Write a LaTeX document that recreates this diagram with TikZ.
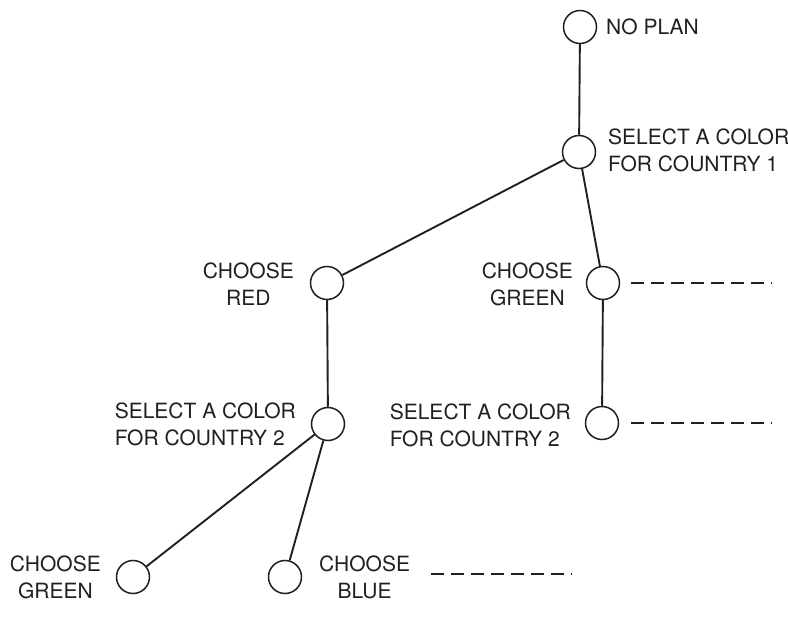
\documentclass[tikz,border=0pt]{standalone}
\usepackage{fontspec}
\setmainfont{TeX Gyre Heros}
\definecolor{ink}{RGB}{35,31,32}
\begin{document}
\begin{tikzpicture}[x=1pt,y=-1pt,
  st/.style={circle, draw=ink, line width=1.5pt, minimum size=33pt, inner sep=0pt},
  lbl/.style={font=\fontsize{21}{27}\selectfont, text=ink, inner sep=0pt},
  edge/.style={draw=ink, line width=1.9pt},
  dashline/.style={draw=ink, line width=1.3pt, dash pattern=on 13pt off 7pt}]
\useasboundingbox (0,0) rectangle (788,620);
% states
\node[st] (A) at (580,27) {};
\node[st] (B) at (579,152) {};
\node[st] (C) at (327,283) {};
\node[st] (D) at (603,283) {};
\node[st] (E) at (328,424) {};
\node[st] (F) at (602,423) {};
\node[st] (G) at (133,577) {};
\node[st] (H) at (285,577) {};
% labels
\node[lbl, anchor=west] (lA) at (606,27) {NO PLAN};
\node[lbl, anchor=west, align=left] (lB) at (608,150) {SELECT A COLOR\\FOR COUNTRY 1};
\node[lbl, anchor=east, align=center] (lC) at (294,284) {CHOOSE\\RED};
\node[lbl, anchor=east, align=center] (lD) at (573,284) {CHOOSE\\GREEN};
\node[lbl, anchor=east, align=left] (lE) at (296,424) {SELECT A COLOR\\FOR COUNTRY 2};
\node[lbl, anchor=east, align=left] (lF) at (571,425) {SELECT A COLOR\\FOR COUNTRY 2};
\node[lbl, anchor=east, align=center] (lG) at (101,577) {CHOOSE\\GREEN};
\node[lbl, anchor=west, align=center] (lH) at (319,577) {CHOOSE\\BLUE};
% edges
\draw[edge] (A) -- (B);
\draw[edge] (B) -- (C);
\draw[edge] (B) -- (D);
\draw[edge] (C) -- (E);
\draw[edge] (D) -- (F);
\draw[edge] (E) -- (G);
\draw[edge] (E) -- (H);
% dashed continuations
\coordinate (d1) at (772,283);
\coordinate (d2) at (772,423);
\coordinate (h1) at (431,574);
\coordinate (h2) at (572,574);
\draw[dashline] ([xshift=11pt]D.east) -- (d1);
\draw[dashline] ([xshift=12pt]F.east) -- (d2);
\draw[dashline] (h1) -- (h2);
\end{tikzpicture}
\end{document}
